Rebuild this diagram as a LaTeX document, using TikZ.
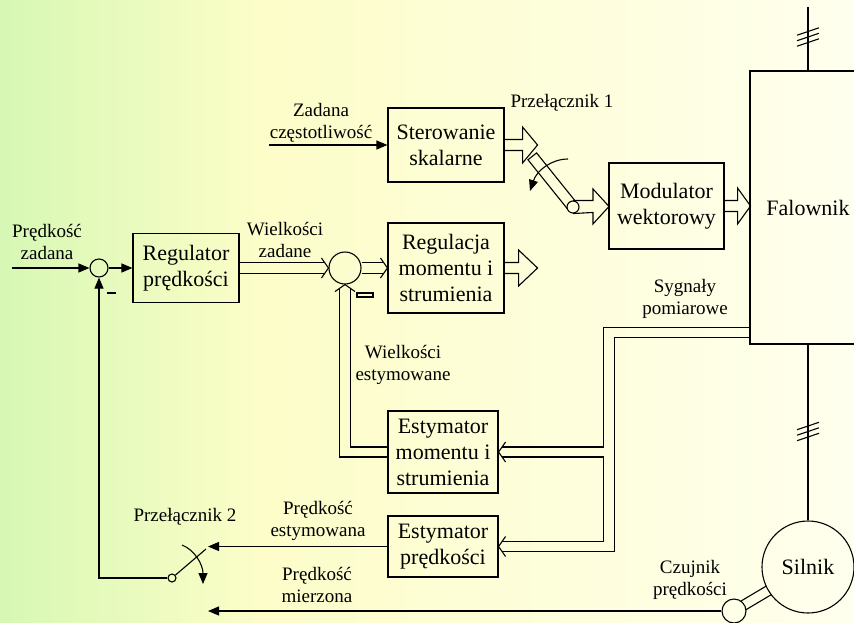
\documentclass[tikz,border=0pt]{standalone}
\usepackage{fontspec}
\setmainfont{Liberation Serif}
\usetikzlibrary{arrows.meta,calc}
\definecolor{tloL}{RGB}{214,248,180}
\definecolor{tloM}{RGB}{252,253,200}
\definecolor{tloR}{RGB}{255,255,238}
\pgfdeclarehorizontalshading{tlo}{100bp}{color(0bp)=(tloL); color(25bp)=(tloL); color(40bp)=(tloM); color(75bp)=(tloR); color(100bp)=(tloR)}
\newcommand{\duzy}{\fontsize{22}{26}\selectfont}
\newcommand{\maly}{\fontsize{19}{22}\selectfont}
\tikzset{
    >={Triangle[length=11pt,width=9pt]},
    every picture/.style={line width=1.1pt},
    blok/.style={draw,rectangle,align=center,inner sep=0pt,font=\duzy},
    sumator/.style={circle,draw,inner sep=0pt},
    opis/.style={align=center,inner sep=0pt,font=\maly}
}
\begin{document}
\begin{tikzpicture}[x=1pt,y=-1pt]
    \useasboundingbox (0,0) rectangle (854,622);
    \clip (0,0) rectangle (854,622);
    \shade[shading=tlo] (0,0) rectangle (854,622);

    \node[blok,minimum width=116,minimum height=74] (ster) at (446,145) {Sterowanie\\skalarne};
    \node[blok,minimum width=106,minimum height=69] (reg) at (186,268) {Regulator\\prędkości};
    \node[blok,minimum width=116,minimum height=90] (regmom) at (446,268) {Regulacja\\momentu i\\strumienia};
    \node[blok,minimum width=115,minimum height=86] (mod) at (666.5,206) {Modulator\\wektorowy};
    \node[blok,minimum width=110,minimum height=82] (estmom) at (443,452) {Estymator\\momentu i\\strumienia};
    \node[blok,minimum width=110,minimum height=61] (estpr) at (443,546.5) {Estymator\\prędkości};
    \node[blok,minimum width=116,minimum height=273] (fal) at (808,207.5) {Falownik};
    \node[sumator,minimum size=92,font=\duzy] (siln) at (808,567) {Silnik};
    \node[sumator,minimum size=18] (sum1) at (99,268) {};
    \node[sumator,minimum size=32] (sum2) at (345,268) {};
    \node[sumator,minimum size=24] (czuj) at (734,611) {};
    \node[sumator,minimum size=12] (prz1) at (573,207) {};
    \node[sumator,minimum size=8] (prz2) at (172,578) {};

    \node[opis] (lzad) at (321,122.5) {Zadana\\częstotliwość};
    \node[opis] (lp1) at (562,103) {Przełącznik 1};
    \node[opis] (lpz) at (47,242) {Prędkość\\zadana};
    \node[opis] (lwz) at (285,239.5) {Wielkości\\zadane};
    \node[opis] (lwe) at (403,365) {Wielkości\\estymowane};
    \node[opis] (lsp) at (685,298.5) {Sygnały\\pomiarowe};
    \node[opis] (lp2) at (185,517) {Przełącznik 2};
    \node[opis] (lpe) at (318,521) {Prędkość\\estymowana};
    \node[opis] (lpm) at (317,585) {Prędkość\\mierzona};
    \node[opis] (lcz) at (690,580) {Czujnik\\prędkości};

    \coordinate (wej) at (12,268);
    \coordinate (wejf) at (269,145);
    \coordinate (siec) at (808,7);
    \coordinate (kon1) at (208,546.5);
    \coordinate (kon2) at (208,611);
    \coordinate (styk2) at (206,549);
    \coordinate (p1a) at (568,159);
    \coordinate (p1b) at (530,191);
    \coordinate (p2a) at (182,545);
    \coordinate (p2b) at (203,584);

    \draw[->] (wej) -- (sum1);
    \draw[->] (sum1) -- (reg);
    \draw[->] (wejf) -- (ster);
    \draw[->] (prz2) -| (sum1);
    \draw[->] (estpr.west) -- (kon1);
    \draw[->] (czuj) -- (kon2);
    \draw (prz2) -- (styk2);
    \draw[->] (p1a) .. controls (552,159) and (537,170) .. (p1b);
    \draw[->] (p2a) .. controls (195,550) and (203,565) .. (p2b);
    \draw (siec) -- (fal.north);
    \draw (fal) -- (siln);
    \foreach \y in {31.5,37,42.5,426,431.5,437}
        \draw (797,\y+3.7) -- (819,\y-3.7);

    \draw (ster.east) ++(0,-5.5) -- ++(18,0) -- ++(0,-12.5) -- ++(15,18) -- ++(-15,18) -- ++(0,-12.5) -- ++(-18,0);
    \draw (prz1.north) -- ++(20,0) -- ++(0,-11.5) -- ++(16,17.5) -- ++(-16,17.5) -- ++(0,-11.5) -- (prz1.south);
    \draw (mod.east) ++(0,-5.5) -- ++(13,0) -- ++(0,-12.5) -- ++(13,18) -- ++(-13,18) -- ++(0,-12.5) -- ++(-13,0);
    \draw (regmom.east) ++(0,-5.5) -- ++(14,0) -- ++(0,-12.5) -- ++(19,18) -- ++(-19,18) -- ++(0,-12.5) -- ++(-14,0);
    \begin{scope}[shift={(prz1.center)},rotate=128.8]
        \draw (2.4,-5.5) -- (65,-5.5) -- (65,5.5) -- (2.4,5.5);
    \end{scope}
    \begin{scope}[shift={(czuj.center)},rotate=30.7]
        \draw (10.9,-5) -- (40.4,-5) (10.9,5) -- (40.4,5);
    \end{scope}

    \draw (reg.east) ++(0,-5.5) -- ($(sum2.west)+(-3.85,-5.5)$);
    \draw (reg.east) ++(0,5.5) -- ($(sum2.west)+(-3.85,5.5)$);
    \draw ($(sum2.west)+(-7,-10)$) -- (sum2.west) -- ($(sum2.west)+(-7,10)$);
    \draw ($(sum2.east)+(0,-5.5)$) -- ($(regmom.west)+(-3.85,-5.5)$);
    \draw ($(sum2.east)+(0,5.5)$) -- ($(regmom.west)+(-3.85,5.5)$);
    \draw ($(regmom.west)+(-7,-10)$) -- (regmom.west) -- ($(regmom.west)+(-7,10)$);
    \draw ($(estmom.west)+(0,5)$) -| ($(sum2.south)+(-5.5,3.85)$);
    \draw ($(estmom.west)+(0,-5)$) -| ($(sum2.south)+(5.5,3.85)$);
    \draw ($(sum2.south)+(-10,7)$) -- (sum2.south) -- ($(sum2.south)+(10,7)$);
    \draw ($(fal.south west)+(0,-17)$) -| ($(estmom.east)+(105,-5)$) -- ($(estmom.east)+(3.5,-5)$);
    \draw ($(estmom.east)+(3.5,5)$) -- ($(estmom.east)+(105,5)$) |- ($(estpr.east)+(3.5,-5)$);
    \draw ($(fal.south west)+(0,-7)$) -| ($(estpr.east)+(116,5)$) -- ($(estpr.east)+(3.5,5)$);
    \draw ($(estmom.east)+(7,-10)$) -- (estmom.east) -- ($(estmom.east)+(7,10)$);
    \draw ($(estpr.east)+(7,-10)$) -- (estpr.east) -- ($(estpr.east)+(7,10)$);

    \draw[line width=1.5pt] (107,293) -- (116,293);
    \draw (357,293) rectangle (373,297);
\end{tikzpicture}
\end{document}
